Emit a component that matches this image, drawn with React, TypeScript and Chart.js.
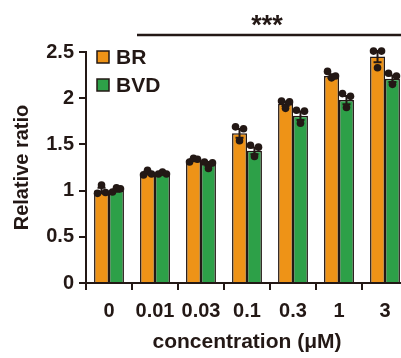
import React, { useEffect, useRef } from "react";
import { Chart, registerables } from "chart.js";

Chart.register(...registerables);

const categories = ["0", "0.01", "0.03", "0.1", "0.3", "1", "3"];
const seriesNames = ["BR", "BVD"];
const brMeans = [1.0, 1.19, 1.33, 1.62, 1.94, 2.24, 2.45];
const bvdMeans = [1.0, 1.19, 1.29, 1.43, 1.81, 1.98, 2.21];
const brErr = [0.03, 0.015, 0.012, 0.047, 0.025, 0.02, 0.06];
const bvdErr = [0.012, 0.007, 0.02, 0.037, 0.045, 0.045, 0.035];
const brDots = [
  [0.97, 1.06, 0.98],
  [1.17, 1.22, 1.18],
  [1.31, 1.35, 1.34],
  [1.69, 1.54, 1.67],
  [1.97, 1.89, 1.96],
  [2.29, 2.22, 2.24],
  [2.51, 2.33, 2.51],
];
const bvdDots = [
  [0.985, 1.03, 1.02],
  [1.18, 1.2, 1.18],
  [1.31, 1.24, 1.3],
  [1.49, 1.37, 1.47],
  [1.87, 1.73, 1.86],
  [2.05, 1.9, 2.02],
  [2.27, 2.15, 2.24],
];
const yTickLabels = ["0", "0.5", "1", "1.5", "2", "2.5"];
const yTitle = "Relative ratio";
const xTitle = "concentration (\u03bcM)";
const sigText = "***";

const ORANGE = "#EE9317";
const GREEN = "#2DA048";
const DARK = "#231815";
const FONT = "'Liberation Sans', Arial, sans-serif";

export default function App() {
  const ref = useRef<HTMLCanvasElement | null>(null);

  useEffect(() => {
    const canvas = ref.current;
    if (!canvas) return;
    const errs = [brErr, bvdErr];
    const dots = [brDots, bvdDots];
    const colors = [ORANGE, GREEN];

    const overlay = {
      id: "overlay",
      afterDatasetsDraw(chart: any) {
        const ctx = chart.ctx;
        const y = chart.scales.y;
        ctx.save();
        for (let d = 0; d < 2; d++) {
          const meta = chart.getDatasetMeta(d);
          meta.data.forEach((bar: any, j: number) => {
            const mean = chart.data.datasets[d].data[j];
            const e = errs[d][j];
            const x = bar.x;
            const y1 = y.getPixelForValue(mean - e);
            const y2 = y.getPixelForValue(mean + e);
            ctx.strokeStyle = DARK;
            ctx.lineWidth = 2;
            ctx.beginPath();
            ctx.moveTo(x, y1);
            ctx.lineTo(x, y2);
            ctx.moveTo(x - 4, y1);
            ctx.lineTo(x + 4, y1);
            ctx.moveTo(x - 4, y2);
            ctx.lineTo(x + 4, y2);
            ctx.stroke();
            const offs = [-4, 0, 4];
            dots[d][j].forEach((v: number, k: number) => {
              ctx.fillStyle = DARK;
              ctx.beginPath();
              ctx.arc(x + offs[k], y.getPixelForValue(v), 3.8, 0, Math.PI * 2);
              ctx.fill();
            });
          });
        }
        // legend
        ctx.font = `bold 21px ${FONT}`;
        ctx.textBaseline = "middle";
        ctx.textAlign = "left";
        seriesNames.forEach((name, i) => {
          const ly = 57 + i * 28;
          ctx.fillStyle = colors[i];
          ctx.fillRect(97, ly - 6, 12, 12);
          ctx.strokeStyle = DARK;
          ctx.lineWidth = 1.5;
          ctx.strokeRect(97, ly - 6, 12, 12);
          ctx.fillStyle = DARK;
          ctx.fillText(name, 116, ly + 1);
        });
        // significance
        ctx.strokeStyle = DARK;
        ctx.lineWidth = 2.5;
        ctx.beginPath();
        ctx.moveTo(137, 35);
        ctx.lineTo(chart.width, 35);
        ctx.stroke();
        ctx.font = `bold 27px ${FONT}`;
        ctx.textAlign = "center";
        ctx.textBaseline = "alphabetic";
        ctx.fillStyle = DARK;
        ctx.fillText(sigText, 267, 34);
        ctx.restore();
      },
    };

    const chart = new Chart(canvas, {
      type: "bar",
      data: {
        labels: categories,
        datasets: [
          {
            label: seriesNames[0],
            data: brMeans,
            backgroundColor: ORANGE,
            borderColor: DARK,
            borderWidth: 1.5,
            categoryPercentage: 0.65,
            barPercentage: 1.0,
          },
          {
            label: seriesNames[1],
            data: bvdMeans,
            backgroundColor: GREEN,
            borderColor: DARK,
            borderWidth: 1.5,
            categoryPercentage: 0.65,
            barPercentage: 1.0,
          },
        ],
      },
      options: {
        responsive: false,
        maintainAspectRatio: false,
        animation: false,
        devicePixelRatio: 1,
        layout: { padding: { top: 52, right: 2, left: 0, bottom: 0 } },
        plugins: {
          legend: { display: false },
          tooltip: { enabled: false },
        },
        scales: {
          x: {
            type: "category",
            offset: true,
            grid: {
              offset: true,
              drawOnChartArea: false,
              drawTicks: true,
              tickLength: 7,
              lineWidth: 2,
              color: DARK,
            },
            border: { display: true, color: DARK, width: 2 },
            ticks: {
              color: DARK,
              font: { family: FONT, size: 20, weight: "bold" },
              padding: 9,
              maxRotation: 0,
            },
            title: {
              display: true,
              text: xTitle,
              color: DARK,
              font: { family: FONT, size: 21, weight: "bold" },
              padding: { top: 0, bottom: 3 },
            },
            afterFit(scale: any) {
              scale.height = 75;
            },
          },
          y: {
            min: 0,
            max: 2.5,
            ticks: {
              stepSize: 0.5,
              color: DARK,
              font: { family: FONT, size: 20, weight: "bold" },
              padding: 5,
              callback: (_v: any, i: number) => yTickLabels[i],
            },
            grid: {
              drawOnChartArea: false,
              drawTicks: true,
              tickLength: 7,
              lineWidth: 2,
              color: DARK,
            },
            border: { display: true, color: DARK, width: 2 },
            title: {
              display: true,
              text: yTitle,
              color: DARK,
              font: { family: FONT, size: 20, weight: "bold" },
              padding: { top: 10, bottom: 0 },
            },
            afterFit(scale: any) {
              scale.width = 86;
            },
          },
        },
      },
      plugins: [overlay],
    });
    return () => chart.destroy();
  }, []);

  return (
    <div
      style={{
        position: "absolute",
        left: 0,
        top: 0,
        width: 401,
        height: 358,
        overflow: "hidden",
        background: "#fff",
      }}
    >
      <canvas ref={ref} width={410} height={358} style={{ display: "block" }} />
    </div>
  );
}
